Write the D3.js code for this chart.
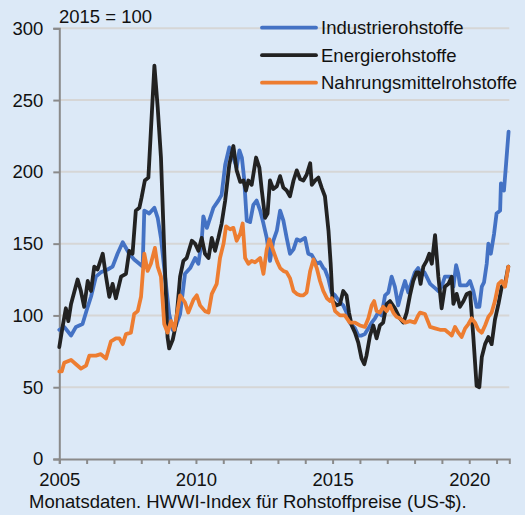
<!DOCTYPE html>
<html>
<head>
<meta charset="utf-8">
<script src="https://cdn.jsdelivr.net/npm/d3@7"></script>
<style>
    body { margin: 0; background: #dce9f7; }
    svg { display: block; font-family: "Liberation Sans", Arial, sans-serif; }
</style>
</head>
<body>
<script>
const seriesNames = ["Industrierohstoffe", "Energierohstoffe", "Nahrungsmittelrohstoffe"]
const seriesColors = ["#4472c4", "#222222", "#ed7d31"]
const yTickValues = [0, 50, 100, 150, 200, 250, 300]
const xTickLabels = [2005, 2010, 2015, 2020]

// [year, index value]
const industrie = [
    [2005.00, 90], [2005.18, 92], [2005.43, 86], [2005.61, 92], [2005.85, 94], [2006.04, 106], [2006.16, 113],
    [2006.34, 127], [2006.52, 130], [2006.77, 132], [2006.95, 134], [2007.13, 143], [2007.32, 151], [2007.44, 147],
    [2007.56, 143], [2007.74, 139], [2007.93, 136], [2008.05, 134], [2008.11, 173], [2008.29, 171], [2008.48, 175],
    [2008.60, 168], [2008.72, 154], [2008.90, 122], [2009.02, 101], [2009.15, 90], [2009.27, 93], [2009.42, 101],
    [2009.60, 129], [2009.79, 133], [2009.97, 140], [2010.09, 136], [2010.21, 152], [2010.27, 169], [2010.40, 161],
    [2010.52, 168], [2010.64, 175], [2010.82, 180], [2010.94, 184], [2011.07, 205], [2011.22, 217], [2011.37, 210],
    [2011.49, 203], [2011.59, 215], [2011.68, 210], [2011.76, 196], [2011.86, 166], [2011.98, 165], [2012.10, 177],
    [2012.22, 180], [2012.35, 173], [2012.47, 164], [2012.59, 154], [2012.71, 138], [2012.83, 152], [2012.96, 159],
    [2013.08, 173], [2013.20, 166], [2013.32, 154], [2013.44, 143], [2013.57, 146], [2013.69, 153], [2013.81, 152],
    [2013.99, 154], [2014.11, 143], [2014.24, 142], [2014.42, 136], [2014.54, 137], [2014.66, 133], [2014.72, 132],
    [2014.84, 126], [2014.96, 116], [2015.09, 114], [2015.27, 109], [2015.39, 107], [2015.51, 102], [2015.63, 95],
    [2015.82, 91], [2015.94, 86], [2016.06, 86], [2016.18, 87], [2016.31, 91], [2016.43, 95], [2016.55, 98],
    [2016.67, 102], [2016.79, 100], [2016.92, 114], [2017.04, 116], [2017.16, 127], [2017.28, 120], [2017.40, 107],
    [2017.52, 116], [2017.65, 124], [2017.77, 116], [2017.89, 123], [2018.01, 130], [2018.13, 133], [2018.26, 128],
    [2018.36, 130], [2018.44, 127], [2018.57, 122], [2018.75, 119], [2018.87, 117], [2018.99, 120], [2019.11, 127],
    [2019.30, 127], [2019.42, 120], [2019.52, 135], [2019.60, 129], [2019.66, 121], [2019.79, 121], [2019.91, 121],
    [2020.03, 124], [2020.15, 117], [2020.27, 106], [2020.37, 106], [2020.46, 120], [2020.54, 123], [2020.64, 136],
    [2020.70, 150], [2020.79, 143], [2020.91, 157], [2021.00, 171], [2021.13, 173], [2021.16, 192], [2021.27, 187],
    [2021.35, 206], [2021.44, 228]
]

const energie = [
    [2005.00, 78], [2005.12, 92], [2005.24, 105], [2005.33, 96], [2005.43, 108], [2005.67, 125], [2005.79, 117],
    [2005.91, 106], [2006.04, 124], [2006.16, 117], [2006.28, 134], [2006.40, 132], [2006.59, 143], [2006.71, 127],
    [2006.83, 113], [2006.95, 122], [2007.07, 112], [2007.26, 127], [2007.44, 129], [2007.56, 145], [2007.68, 143],
    [2007.80, 173], [2007.93, 175], [2008.01, 182], [2008.13, 194], [2008.26, 196], [2008.35, 228], [2008.48, 274],
    [2008.60, 245], [2008.72, 210], [2008.84, 145], [2008.96, 85], [2009.02, 77], [2009.15, 83], [2009.27, 94],
    [2009.42, 127], [2009.54, 138], [2009.66, 140], [2009.85, 152], [2009.97, 150], [2010.09, 145], [2010.21, 154],
    [2010.33, 143], [2010.46, 140], [2010.58, 154], [2010.70, 145], [2010.82, 154], [2010.94, 164], [2011.07, 180],
    [2011.22, 205], [2011.37, 218], [2011.49, 201], [2011.62, 193], [2011.74, 194], [2011.83, 187], [2011.92, 194],
    [2012.04, 191], [2012.20, 210], [2012.32, 203], [2012.41, 187], [2012.53, 168], [2012.62, 171], [2012.71, 194],
    [2012.83, 188], [2012.96, 190], [2013.08, 197], [2013.20, 189], [2013.32, 187], [2013.44, 183], [2013.57, 194],
    [2013.69, 201], [2013.81, 195], [2013.93, 194], [2014.05, 198], [2014.18, 206], [2014.24, 191], [2014.36, 194],
    [2014.48, 196], [2014.60, 189], [2014.72, 183], [2014.85, 159], [2014.93, 136], [2015.00, 110], [2015.15, 107],
    [2015.27, 108], [2015.39, 117], [2015.51, 114], [2015.60, 102], [2015.70, 93], [2015.82, 88], [2015.94, 81],
    [2016.06, 70], [2016.16, 66], [2016.24, 72], [2016.37, 86], [2016.49, 93], [2016.61, 84], [2016.73, 93],
    [2016.85, 95], [2016.98, 108], [2017.10, 110], [2017.28, 105], [2017.46, 98], [2017.59, 95], [2017.71, 102],
    [2017.83, 114], [2017.95, 124], [2018.07, 130], [2018.15, 130], [2018.22, 122], [2018.32, 134], [2018.44, 138],
    [2018.54, 143], [2018.63, 136], [2018.75, 156], [2018.87, 127], [2018.99, 105], [2019.11, 120], [2019.24, 122],
    [2019.36, 127], [2019.42, 108], [2019.54, 115], [2019.66, 106], [2019.79, 110], [2019.91, 115], [2020.03, 116],
    [2020.15, 85], [2020.27, 51], [2020.37, 50], [2020.46, 71], [2020.58, 80], [2020.70, 85], [2020.82, 80],
    [2020.94, 97], [2021.07, 108], [2021.19, 120], [2021.31, 122], [2021.43, 134]
]

const nahrung = [
    [2005.00, 61], [2005.09, 61], [2005.18, 67], [2005.43, 69], [2005.61, 66], [2005.79, 63], [2005.98, 65],
    [2006.10, 72], [2006.34, 72], [2006.52, 73], [2006.71, 70], [2006.89, 82], [2007.07, 84], [2007.20, 84],
    [2007.32, 80], [2007.44, 87], [2007.62, 88], [2007.74, 101], [2007.87, 103], [2007.99, 113], [2008.11, 143],
    [2008.23, 131], [2008.35, 136], [2008.50, 147], [2008.60, 134], [2008.72, 127], [2008.84, 94], [2008.96, 88],
    [2009.09, 96], [2009.21, 90], [2009.42, 114], [2009.60, 109], [2009.72, 102], [2009.91, 111], [2010.03, 114],
    [2010.15, 107], [2010.33, 103], [2010.46, 102], [2010.58, 115], [2010.76, 122], [2010.88, 140], [2011.01, 150],
    [2011.10, 162], [2011.25, 160], [2011.37, 161], [2011.49, 152], [2011.62, 157], [2011.71, 164], [2011.80, 140],
    [2011.92, 136], [2012.04, 138], [2012.16, 137], [2012.35, 140], [2012.47, 129], [2012.59, 146], [2012.69, 153],
    [2012.83, 145], [2012.96, 138], [2013.08, 133], [2013.20, 131], [2013.32, 130], [2013.44, 126], [2013.57, 117],
    [2013.69, 115], [2013.81, 114], [2013.93, 114], [2014.05, 116], [2014.18, 131], [2014.30, 139], [2014.42, 133],
    [2014.54, 124], [2014.66, 117], [2014.79, 112], [2014.91, 110], [2014.97, 112], [2015.09, 103], [2015.27, 100],
    [2015.45, 100], [2015.63, 95], [2015.82, 95], [2016.00, 93], [2016.18, 92], [2016.31, 98], [2016.43, 107],
    [2016.52, 110], [2016.61, 103], [2016.73, 102], [2016.85, 106], [2016.98, 103], [2017.10, 107], [2017.22, 102],
    [2017.34, 99], [2017.46, 98], [2017.65, 95], [2017.83, 96], [2018.01, 95], [2018.13, 100], [2018.20, 102],
    [2018.38, 101], [2018.57, 92], [2018.75, 91], [2018.93, 90], [2019.11, 90], [2019.24, 88], [2019.36, 86],
    [2019.48, 92], [2019.60, 88], [2019.72, 85], [2019.85, 91], [2019.97, 94], [2020.09, 98], [2020.21, 95],
    [2020.33, 90], [2020.46, 88], [2020.58, 93], [2020.70, 99], [2020.82, 102], [2020.94, 110], [2021.07, 122],
    [2021.19, 124], [2021.31, 120], [2021.43, 134]
]

const width = 525
const height = 515
const fontSize = 18.5

const svg = d3.select("body").append("svg")
    .attr("width", width)
    .attr("height", height)

svg.append("rect")
    .attr("width", width)
    .attr("height", height)
    .attr("fill", "#dce9f7")

const x = d3.scaleLinear().domain([2005, 2021.466]).range([59.3, 509.3])
const y = d3.scaleLinear().domain([0, 300]).range([459, 28.3])

// horizontal grid
svg.append("g")
    .selectAll("line")
    .data(yTickValues.filter(d => d > 0))
    .join("line")
    .attr("x1", x(2005))
    .attr("x2", x.range()[1])
    .attr("y1", d => y(d))
    .attr("y2", d => y(d))
    .attr("stroke", "#d6d6d6")
    .attr("stroke-width", 2)

// y axis
const yAxis = svg.append("g")
    .attr("transform", `translate(${x(2005)},0)`)
    .call(d3.axisLeft(y).tickValues(yTickValues).tickSize(6).tickPadding(10))
yAxis.select(".domain").attr("stroke", "#8a8a8a").attr("stroke-width", 2)
yAxis.selectAll(".tick line").attr("stroke", "#8a8a8a").attr("stroke-width", 2)
yAxis.selectAll(".tick text")
    .attr("font-size", fontSize)
    .attr("font-family", "Liberation Sans, Arial, sans-serif")
    .attr("fill", "#111")

// x axis
const xAxis = svg.append("g")
    .attr("transform", `translate(0,${y(0)})`)
    .call(d3.axisBottom(x)
        .tickValues(d3.range(2005, 2022))
        .tickSize(5)
        .tickPadding(9)
        .tickFormat(d => xTickLabels.includes(d) ? d : ""))
xAxis.select(".domain").attr("stroke", "#8a8a8a").attr("stroke-width", 2)
xAxis.selectAll(".tick line").attr("stroke", "#8a8a8a").attr("stroke-width", 2)
xAxis.selectAll(".tick text")
    .attr("font-size", fontSize)
    .attr("font-family", "Liberation Sans, Arial, sans-serif")
    .attr("fill", "#111")

// lines
const line = d3.line()
    .x(d => x(d[0]))
    .y(d => y(d[1]))

const allSeries = [industrie, energie, nahrung]

svg.append("g")
    .selectAll("path")
    .data(allSeries)
    .join("path")
    .attr("d", line)
    .attr("fill", "none")
    .attr("stroke", (d, i) => seriesColors[i])
    .attr("stroke-width", 3.8)
    .attr("stroke-linejoin", "round")
    .attr("stroke-linecap", "round")

// legend
const legend = svg.append("g")
    .selectAll("g")
    .data(seriesNames)
    .join("g")
    .attr("transform", (d, i) => `translate(262,${27.7 + i * 27.5})`)

legend.append("line")
    .attr("x1", 0)
    .attr("x2", 54)
    .attr("stroke", (d, i) => seriesColors[i])
    .attr("stroke-width", 3.8)
    .attr("stroke-linecap", "round")

legend.append("text")
    .attr("x", 59)
    .attr("dy", "0.35em")
    .attr("font-size", fontSize)
    .attr("fill", "#111")
    .text(d => d)

// unit label
svg.append("text")
    .attr("x", 59)
    .attr("y", 23)
    .attr("font-size", fontSize)
    .attr("fill", "#111")
    .text("2015 = 100")

// footnote
svg.append("text")
    .attr("x", 29)
    .attr("y", 508)
    .attr("font-size", fontSize)
    .attr("fill", "#111")
    .text("Monatsdaten. HWWI-Index für Rohstoffpreise (US-$).")
</script>
</body>
</html>
